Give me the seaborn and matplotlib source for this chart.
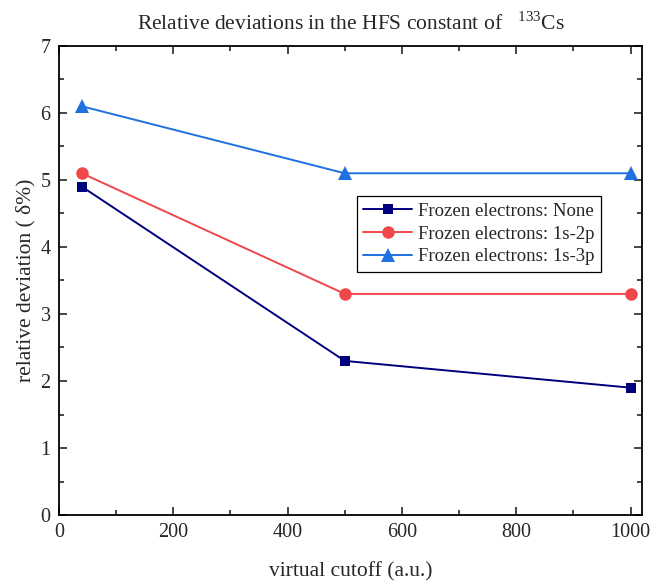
import pandas as pd
import matplotlib
matplotlib.use("Agg")
import matplotlib.pyplot as plt
import seaborn as sns
from matplotlib.ticker import MultipleLocator

# datos
cutoff = [40, 500, 1000]
dev_none = [4.9, 2.3, 1.9]
dev_1s2p = [5.1, 3.3, 3.3]
dev_1s3p = [6.1, 5.1, 5.1]
etiquetas = ["Frozen electrons: None", "Frozen electrons: 1s-2p", "Frozen electrons: 1s-3p"]

colores = ["#00007f", "#f0474a", "#1f70e0"]
marcadores = ["s", "o", "^"]
tamanos = [7.5, 9, 10]

sns.set_theme(style="ticks")
plt.rcParams["font.family"] = ["Liberation Serif", "DejaVu Serif"]
plt.rcParams["mathtext.fontset"] = "custom"
plt.rcParams["mathtext.rm"] = "Liberation Serif"

fig = plt.figure(figsize=(6.5, 5.82), dpi=100)
ax = fig.add_axes([0.0908, 0.1151, 0.8969, 0.8059])

for y, lab, c, m, s in zip([dev_none, dev_1s2p, dev_1s3p], etiquetas, colores, marcadores, tamanos):
    df = pd.DataFrame({"x": cutoff, "y": y})
    sns.lineplot(data=df, x="x", y="y", ax=ax, color=c, marker=m, markersize=s,
                 markeredgewidth=0, linewidth=1.4, label=lab)

ax.set_xlim(0, 1020)
ax.set_ylim(0, 7)
ax.xaxis.set_major_locator(MultipleLocator(200))
ax.xaxis.set_minor_locator(MultipleLocator(100))
ax.yaxis.set_major_locator(MultipleLocator(1))
ax.yaxis.set_minor_locator(MultipleLocator(0.5))
ax.tick_params(which="both", direction="in", top=True, right=True, width=1.2, labelsize=14.5)
ax.tick_params(which="major", length=6)
ax.tick_params(which="minor", length=3.5)
ax.tick_params(axis="y", pad=6)
ax.tick_params(axis="x", pad=6)
for sp in ax.spines.values():
    sp.set_linewidth(1.3)
    sp.set_color("black")

ax.set_xlabel("virtual cutoff (a.u.)", fontsize=15.5, labelpad=14)
ax.set_ylabel("relative deviation ( δ%)", fontsize=15.5, labelpad=4)
ax.set_title(r"Relative deviations in the HFS constant of   $^{\mathrm{133}}$Cs", fontsize=15.5, pad=12)

leg = ax.legend(loc="upper left", bbox_to_anchor=(0.511, 0.68), fontsize=13.5,
                frameon=True, fancybox=False, edgecolor="black", framealpha=1,
                borderpad=0.35, labelspacing=0.3, handlelength=2.6, handletextpad=0.3,
                borderaxespad=0)
leg.get_frame().set_linewidth(0.9)

fig.savefig("out.png", dpi=100)
